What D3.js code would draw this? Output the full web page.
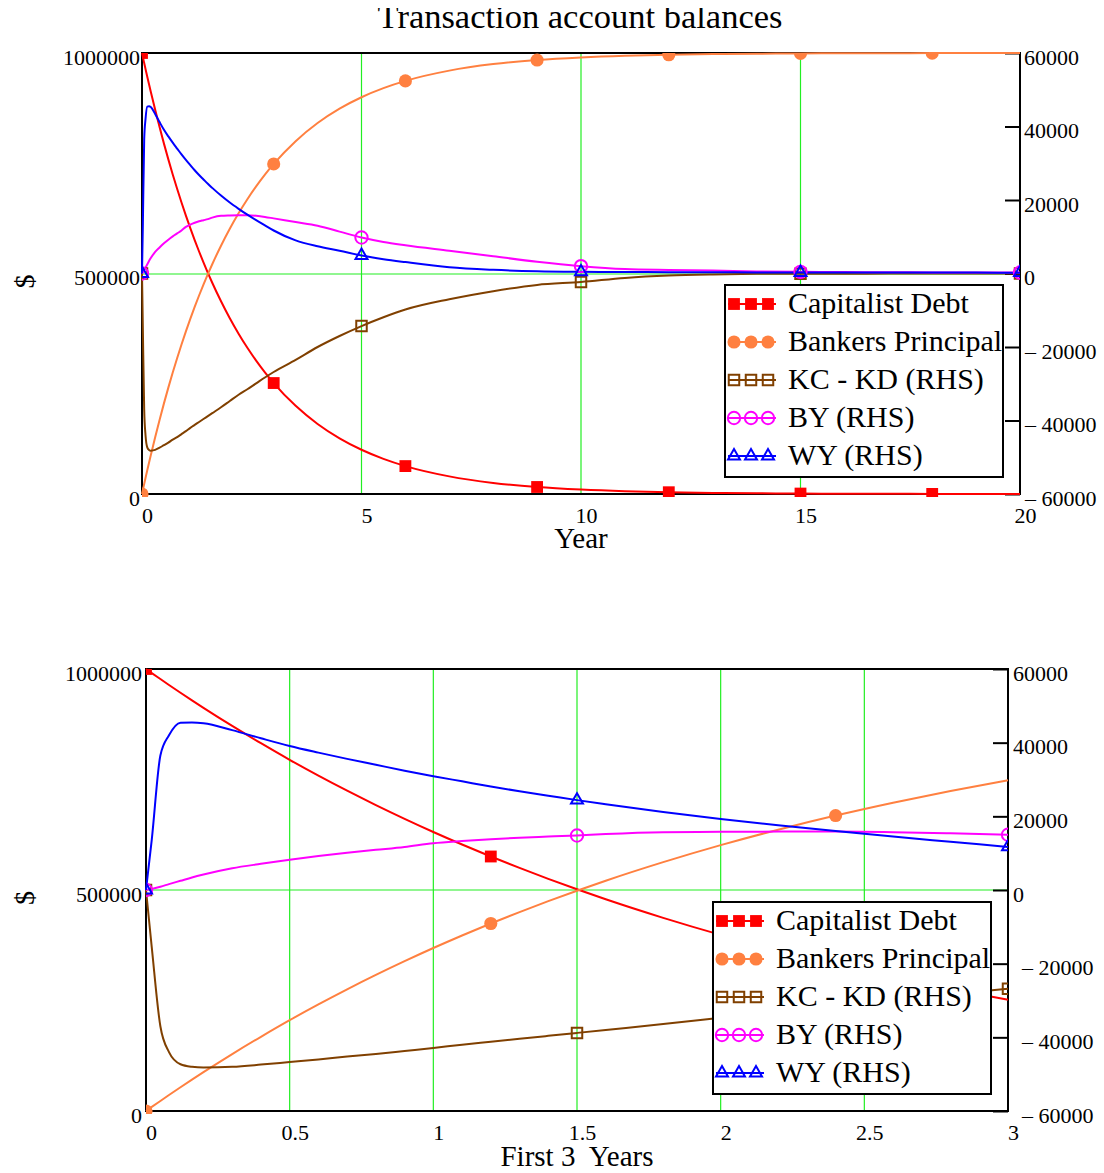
<!DOCTYPE html>
<html>
<head>
<meta charset="utf-8">
<script src="https://cdn.jsdelivr.net/npm/d3@7"></script>
<style>
  body { margin: 0; background: #fff; }
  svg text { font-family: "Liberation Serif", "Times New Roman", serif; fill: #000; }
</style>
</head>
<body>
<svg id="chart" width="1104" height="1173"></svg>
<script>
var titleText = 'Transaction account balances';

// time grid (years), dense near zero so the first-3-years panel keeps its shape
var years = [0, 0.02, 0.05, 0.08, 0.12, 0.16, 0.2, 0.3, 0.4, 0.5, 0.6, 0.7, 0.8, 0.9, 1.0, 1.1, 1.2, 1.3, 1.4, 1.5,
    1.6, 1.8, 2.0, 2.2, 2.4, 2.6, 2.8, 3.0, 3.5, 4, 4.5, 5, 5.5, 6, 7, 8, 9, 10, 11, 12, 13, 14, 15, 16, 17, 18, 19, 20];

// left axis series
var capitalistDebt = [1000000, 990800, 977300, 963900, 946300, 929100, 912200, 871200, 832100, 794500, 758800, 724700,
    692200, 661100, 631300, 602900, 575800, 549900, 525200, 501600, 479000, 437000, 398500, 363500, 331500, 302400,
    275800, 251600, 199900, 158800, 126200, 100300, 79700, 63300, 40000, 25200, 15900, 10100, 6300, 4000, 2500, 1600,
    1000, 640, 400, 250, 160, 100];
var bankersPrincipal = [0, 9200, 22700, 36100, 53700, 70900, 87800, 128800, 167900, 205500, 241200, 275300, 307800,
    338900, 368700, 397100, 424200, 450100, 474800, 498400, 521000, 563000, 601500, 636500, 668500, 697600, 724200,
    748400, 800100, 841200, 873800, 899700, 920300, 936700, 960000, 974800, 984100, 989900, 993700, 996000, 997500,
    998400, 999000, 999360, 999600, 999750, 999840, 999900];

// right axis series
var kcMinusKd = [0, -15500, -37000, -44000, -47300, -48000, -48200, -48000, -47400, -46700, -46000, -45200, -44500,
    -43700, -42900, -42000, -41200, -40400, -39600, -38800, -38000, -36400, -34700, -33000, -31500, -29900, -28300,
    -26800, -23500, -20000, -17000, -14300, -11900, -9800, -7000, -4800, -3100, -2300, -1200, -550, -250, -100, -60,
    -40, -30, -20, -10, 0];
var bankerIncome = [0, 300, 900, 1600, 2500, 3400, 4200, 5900, 7100, 8200, 9200, 10100, 10900, 11700, 12700, 13300,
    13800, 14200, 14500, 14800, 15200, 15700, 15800, 15850, 15850, 15700, 15400, 15000, 14000, 13000, 11400, 9800,
    8600, 7700, 6200, 4700, 3200, 2000, 1200, 950, 800, 550, 450, 380, 330, 300, 280, 260];
var workerIncome = [0, 13600, 36500, 42000, 45400, 45500, 45300, 43400, 41200, 39100, 37300, 35600, 34000, 32400,
    30900, 29500, 28100, 26800, 25600, 24400, 23300, 21200, 19300, 17600, 16000, 14500, 13100, 11700, 9000, 7400, 6200,
    4900, 3900, 3100, 1700, 1000, 600, 450, 400, 350, 320, 300, 280, 270, 260, 250, 240, 230];

// ticks
var topXTicks = [0, 5, 10, 15, 20];
var bottomXTicks = [0, 0.5, 1, 1.5, 2, 2.5, 3];
var leftTicks = [0, 500000, 1000000];
var rightTicks = [-60000, -40000, -20000, 0, 20000, 40000, 60000];

// years where the markers sit
var topMarkersA = [0, 3, 6, 9, 12, 15, 18];
var topMarkersB = [0, 5, 10, 15, 20];
var bottomMarkersA = [0, 1.2, 2.4];
var bottomMarkersB = [0, 1.5, 3];

var series = [
    {name: 'Capitalist Debt', values: capitalistDebt, axis: 'left', color: '#ff0000', symbol: d3.symbolSquare, size: 140, fill: true, group: 'A'},
    {name: 'Bankers Principal', values: bankersPrincipal, axis: 'left', color: '#ff8040', symbol: d3.symbolCircle, size: 135, fill: true, group: 'A'},
    {name: 'KC - KD (RHS)', values: kcMinusKd, axis: 'right', color: '#804000', symbol: d3.symbolSquare, size: 110, fill: false, group: 'B'},
    {name: 'BY (RHS)', values: bankerIncome, axis: 'right', color: '#ff00ff', symbol: d3.symbolCircle, size: 120, fill: false, group: 'B'},
    {name: 'WY (RHS)', values: workerIncome, axis: 'right', color: '#0000ff', symbol: d3.symbolTriangle, size: 62, fill: false, group: 'B'}
];

var svg = d3.select('#chart');

// the title is cut off at the top in the source picture
svg.append('clipPath').attr('id', 'titleClip')
    .append('rect').attr('x', 0).attr('y', 8).attr('width', 1104).attr('height', 60);
svg.append('text')
    .attr('clip-path', 'url(#titleClip)')
    .attr('x', 580).attr('y', 28)
    .attr('text-anchor', 'middle')
    .style('font-size', '34.5px')
    .text(titleText);

drawChart({
    id: 'top', maxYear: 20, left: 142, right: 1020, top: 53, bottom: 494,
    xTicks: topXTicks, markersA: topMarkersA, markersB: topMarkersB,
    xTitle: 'Year', xTitleY: 548, leftPad: 2, posPad: 4, negPad: 5
});
drawChart({
    id: 'bottom', maxYear: 3, left: 146, right: 1008, top: 669, bottom: 1111,
    xTicks: bottomXTicks, markersA: bottomMarkersA, markersB: bottomMarkersB,
    xTitle: 'First 3  Years', xTitleY: 1166, leftPad: 4, posPad: 5, negPad: 14
});

function drawChart(o) {
    var g = svg.append('g');
    var w = o.right - o.left, h = o.bottom - o.top;
    var x = d3.scaleLinear().domain([0, o.maxYear]).range([o.left, o.right]);
    var yL = d3.scaleLinear().domain([0, 1000000]).range([o.bottom, o.top]);
    var yR = d3.scaleLinear().domain([-60000, 60000]).range([o.bottom, o.top]);

    var defs = g.append('defs');
    defs.append('clipPath').attr('id', o.id + 'Lines').append('rect')
        .attr('x', o.left - 1).attr('y', o.top - 1).attr('width', w + 2).attr('height', h + 2);
    defs.append('clipPath').attr('id', o.id + 'Marks').append('rect')
        .attr('x', o.left).attr('y', o.top).attr('width', w).attr('height', h + 3);

    // green grid
    var grid = g.append('g').attr('stroke', '#22ee22').attr('stroke-width', 1.2);
    grid.selectAll('line.v')
        .data(o.xTicks.filter(function(d) { return d > 0 && d < o.maxYear; }))
        .join('line').attr('class', 'v')
        .attr('x1', x).attr('x2', x).attr('y1', o.top).attr('y2', o.bottom);
    grid.append('line')
        .attr('x1', o.left).attr('x2', o.right)
        .attr('y1', Math.round(yL(500000))).attr('y2', Math.round(yL(500000)));

    // frame
    g.append('rect')
        .attr('x', o.left).attr('y', o.top).attr('width', w).attr('height', h)
        .attr('fill', 'none').attr('stroke', '#000').attr('stroke-width', 2);

    // left axis: labels only
    var axL = g.append('g')
        .attr('transform', 'translate(' + (o.left - o.leftPad) + ',0)')
        .call(d3.axisLeft(yL).tickValues(leftTicks).tickSize(0).tickPadding(0).tickFormat(d3.format('d')));
    axL.select('.domain').remove();
    axL.selectAll('text').attr('dy', 11).style('font-size', '22px');

    // right axis: inward ticks, "– 20000" style negatives
    var axR = g.append('g')
        .attr('transform', 'translate(' + o.right + ',0)')
        .call(d3.axisRight(yR).tickValues(rightTicks).tickSize(-15).tickPadding(0)
            .tickFormat(function(d) { return d < 0 ? '\u2013 ' + Math.abs(d) : String(d); }));
    axR.select('.domain').remove();
    axR.selectAll('.tick line').attr('stroke', '#000').attr('stroke-width', 2);
    axR.selectAll('text')
        .attr('x', function(d) { return d < 0 ? o.negPad : o.posPad; })
        .attr('dy', 11)
        .style('font-size', '22px')
        .style('white-space', 'pre');

    // bottom axis: labels only
    var axB = g.append('g')
        .attr('transform', 'translate(0,' + o.bottom + ')')
        .call(d3.axisBottom(x).tickValues(o.xTicks).tickSize(0).tickPadding(0).tickFormat(d3.format('~g')));
    axB.select('.domain').remove();
    axB.selectAll('text').attr('y', 0).attr('dy', 29).attr('dx', 5).style('font-size', '22px');

    // axis titles
    g.append('text')
        .attr('x', (o.left + o.right) / 2).attr('y', o.xTitleY)
        .attr('text-anchor', 'middle')
        .style('font-size', '29px').style('white-space', 'pre')
        .text(o.xTitle);
    g.append('text')
        .attr('transform', 'translate(24,' + (yL(500000) + 8) + ') rotate(-90)')
        .attr('text-anchor', 'middle').attr('dy', '0.35em')
        .style('font-size', '28px')
        .text('$');

    var idx = d3.range(years.length).filter(function(i) { return years[i] <= o.maxYear; });

    var lines = g.append('g').attr('clip-path', 'url(#' + o.id + 'Lines)');
    var marks = g.append('g').attr('clip-path', 'url(#' + o.id + 'Marks)');

    series.forEach(function(s) {
        var y = s.axis === 'left' ? yL : yR;
        var line = d3.line()
            .x(function(i) { return x(years[i]); })
            .y(function(i) { return y(s.values[i]); })
            .curve(d3.curveMonotoneX);
        lines.append('path').datum(idx)
            .attr('d', line)
            .attr('fill', 'none').attr('stroke', s.color).attr('stroke-width', 2);

        var at = (s.group === 'A' ? o.markersA : o.markersB).map(function(t) { return years.indexOf(t); });
        marks.selectAll(null).data(at).join('path')
            .attr('transform', function(i) { return 'translate(' + x(years[i]) + ',' + y(s.values[i]) + ')'; })
            .attr('d', d3.symbol().type(s.symbol).size(s.size))
            .attr('fill', s.fill ? s.color : 'none')
            .attr('stroke', s.fill ? 'none' : s.color)
            .attr('stroke-width', 2);
    });

    // legend, bottom-right inside the plot
    var lw = 278, lh = 192;
    var lx = o.right - 17 - lw, ly = o.bottom - 17 - lh;
    var leg = g.append('g');
    leg.append('rect')
        .attr('x', lx).attr('y', ly).attr('width', lw).attr('height', lh)
        .attr('fill', '#fff').attr('stroke', '#000').attr('stroke-width', 2);
    series.forEach(function(s, k) {
        var base = ly + 28 + k * 38, sy = base - 9, x0 = lx + 3;
        leg.append('line')
            .attr('x1', x0).attr('x2', x0 + 48).attr('y1', sy).attr('y2', sy)
            .attr('stroke', s.color).attr('stroke-width', 2);
        leg.selectAll(null).data([6, 23, 40]).join('path')
            .attr('transform', function(d) { return 'translate(' + (x0 + d) + ',' + sy + ')'; })
            .attr('d', d3.symbol().type(s.symbol).size(s.size))
            .attr('fill', s.fill ? s.color : 'none')
            .attr('stroke', s.fill ? 'none' : s.color)
            .attr('stroke-width', 2);
        leg.append('text')
            .attr('x', x0 + 60).attr('y', base)
            .style('font-size', '30px')
            .text(s.name);
    });
}
</script>
</body>
</html>
